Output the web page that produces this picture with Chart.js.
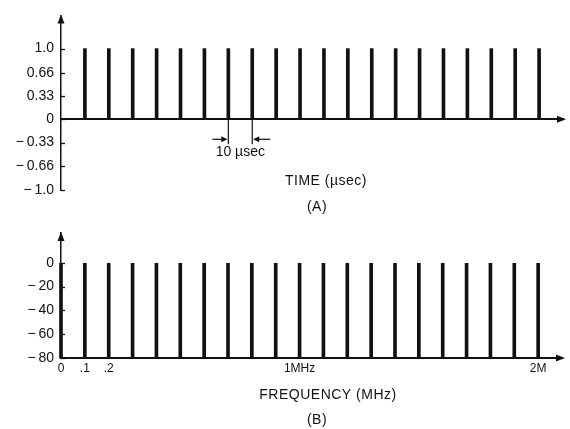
<!DOCTYPE html>
<html><head><meta charset="utf-8">
<script src="https://cdn.jsdelivr.net/npm/chart.js@4/dist/chart.umd.min.js"></script>
<style>
html,body{margin:0;padding:0;background:#fff;}
#wrap{position:relative;width:570px;height:429px;background:#fff;}
.box{position:absolute;left:0;width:570px;}
</style></head><body>
<div id="wrap">
<div class="box" style="top:0;height:215px"><canvas id="c1" width="570" height="215"></canvas></div>
<div class="box" style="top:215px;height:214px"><canvas id="c2" width="570" height="214"></canvas></div>
</div>
<script>
// ---- Panel (A): time domain ----
const pulseTimes = [10,20,30,40,50,60,70,80,90,100,110,120,130,140,150,160,170,180,190,200];
const pulseAmplitudes = [1,1,1,1,1,1,1,1,1,1,1,1,1,1,1,1,1,1,1,1];
const amplitudeTicks = [1.0,0.66,0.33,0,-0.33,-0.66,-1.0];
const amplitudeTickLabels = ["1.0","0.66","0.33","0","\u2212\u20090.33","\u2212\u20090.66","\u2212\u20091.0"];
const periodMarkerTimes = [70,80];
const periodLabel = "10 \u00B5sec";
const timeAxisTitle = "TIME (\u00B5sec)";
const panelALabel = "(A)";

// ---- Panel (B): frequency domain ----
const lineFreqs = [0,0.1,0.2,0.3,0.4,0.5,0.6,0.7,0.8,0.9,1.0,1.1,1.2,1.3,1.4,1.5,1.6,1.7,1.8,1.9,2.0];
const lineLevels = [0,0,0,0,0,0,0,0,0,0,0,0,0,0,0,0,0,0,0,0,0];
const levelFloor = -80;
const levelTicks = [0,-20,-40,-60,-80];
const levelTickLabels = ["0","\u2212\u200920","\u2212\u200940","\u2212\u200960","\u2212\u200980"];
const freqTicks = [0,0.1,0.2,1.0,2.0];
const freqTickLabels = ["0",".1",".2","1MHz","2M"];
const freqAxisTitle = "FREQUENCY (MHz)";
const panelBLabel = "(B)";

const INK = '#111';
const FONT = '"Liberation Sans", Arial, sans-serif';

function arrowUp(ctx, x, y){
  ctx.beginPath(); ctx.moveTo(x, y); ctx.lineTo(x-3.5, y+9); ctx.lineTo(x+3.5, y+9); ctx.closePath(); ctx.fill();
}
function arrowRight(ctx, x, y){
  ctx.beginPath(); ctx.moveTo(x, y); ctx.lineTo(x-9, y-3.5); ctx.lineTo(x-9, y+3.5); ctx.closePath(); ctx.fill();
}

function decor(cfg){
  return {
    id: 'decor',
    afterDraw(chart){
      const ctx = chart.ctx, xs = chart.scales.x, ys = chart.scales.y, ca = chart.chartArea;
      ctx.save();
      ctx.strokeStyle = INK; ctx.fillStyle = INK;
      ctx.lineWidth = 1.3;
      cfg.yTicks.forEach(v => {
        const py = Math.round(ys.getPixelForValue(v)) + 0.5;
        ctx.beginPath(); ctx.moveTo(ca.left, py); ctx.lineTo(ca.left + 4, py); ctx.stroke();
      });
      arrowUp(ctx, ca.left, ca.top - 1);
      const y0 = ys.getPixelForValue(cfg.xAxisAt);
      arrowRight(ctx, ca.right + 3, y0);
      ctx.textAlign = 'center'; ctx.textBaseline = 'middle';
      ctx.font = '14px ' + FONT;
      try { ctx.letterSpacing = '0.5px'; } catch (e) {}
      cfg.texts.forEach(t => ctx.fillText(t.s, t.x, t.y));
      try { ctx.letterSpacing = '0px'; } catch (e) {}
      if (cfg.extra) cfg.extra(ctx, xs, ys);
      ctx.restore();
    }
  };
}

function fixedTicks(vals){ return scale => { scale.ticks = vals.map(v => ({value: v})); }; }

// ---------- Chart A ----------
new Chart(document.getElementById('c1'), {
  type: 'bar',
  data: { datasets: [{
    data: pulseTimes.map((t, i) => ({x: t, y: pulseAmplitudes[i]})),
    backgroundColor: INK, borderWidth: 0, barThickness: 3, clip: false
  }]},
  options: {
    responsive: false, devicePixelRatio: 1, animation: false,
    layout: { padding: { top: 13, bottom: 25, left: 0, right: 7 } },
    plugins: { legend: {display: false}, tooltip: {enabled: false} },
    scales: {
      x: { type: 'linear', min: 0, max: 210, offset: false, position: {y: 0},
           grid: { display: false, offset: false }, ticks: { display: false },
           border: { display: true, color: INK, width: 2 } },
      y: { type: 'linear', min: -1.0, max: 1.47,
           afterBuildTicks: fixedTicks(amplitudeTicks),
           afterFit: s => { s.width = 61; },
           grid: { drawOnChartArea: false, drawTicks: false },
           border: { display: true, color: INK, width: 1.5 },
           ticks: { padding: 7, color: INK, font: { family: FONT, size: 14 },
                    callback: (v, i) => amplitudeTickLabels[i] } }
    }
  },
  plugins: [decor({
    yTicks: amplitudeTicks, xAxisAt: 0,
    texts: [{s: timeAxisTitle, x: 326, y: 181}, {s: panelALabel, x: 317, y: 207}],
    extra: (ctx, xs, ys) => {
      const y0 = ys.getPixelForValue(0);
      const xa = xs.getPixelForValue(periodMarkerTimes[0]);
      const xb = xs.getPixelForValue(periodMarkerTimes[1]);
      ctx.lineWidth = 1.2;
      [xa, xb].forEach(x => { ctx.beginPath(); ctx.moveTo(x, y0); ctx.lineTo(x, y0 + 25); ctx.stroke(); });
      const ay = y0 + 20;
      ctx.beginPath(); ctx.moveTo(xa - 16, ay); ctx.lineTo(xa - 2, ay); ctx.stroke();
      ctx.beginPath(); ctx.moveTo(xa - 1, ay); ctx.lineTo(xa - 7, ay - 3); ctx.lineTo(xa - 7, ay + 3); ctx.closePath(); ctx.fill();
      ctx.beginPath(); ctx.moveTo(xb + 18, ay); ctx.lineTo(xb + 2, ay); ctx.stroke();
      ctx.beginPath(); ctx.moveTo(xb + 1, ay); ctx.lineTo(xb + 7, ay - 3); ctx.lineTo(xb + 7, ay + 3); ctx.closePath(); ctx.fill();
      ctx.font = '14px ' + FONT; ctx.textAlign = 'center'; ctx.textBaseline = 'middle';
      ctx.fillText(periodLabel, (xa + xb) / 2, y0 + 33);
    }
  })]
});

// ---------- Chart B ----------
new Chart(document.getElementById('c2'), {
  type: 'bar',
  data: { datasets: [{
    data: lineFreqs.map((f, i) => ({x: f, y: [levelFloor, lineLevels[i]]})),
    backgroundColor: INK, borderWidth: 0, barThickness: 3, clip: false
  }]},
  options: {
    responsive: false, devicePixelRatio: 1, animation: false,
    layout: { padding: { top: 18, bottom: 51, left: 0, right: 8 } },
    plugins: { legend: {display: false}, tooltip: {enabled: false} },
    scales: {
      x: { type: 'linear', min: 0, max: 2.1, offset: false, position: 'bottom',
           afterBuildTicks: fixedTicks(freqTicks),
           afterFit: s => { s.height = 20; },
           grid: { drawOnChartArea: false, drawTicks: false, offset: false },
           border: { display: true, color: INK, width: 2 },
           ticks: { padding: 3, color: INK, maxRotation: 0, autoSkip: false,
                    font: { family: FONT, size: 12 },
                    callback: (v, i) => freqTickLabels[i] } },
      y: { type: 'linear', min: -80, max: 25,
           afterBuildTicks: fixedTicks(levelTicks),
           afterFit: s => { s.width = 61; },
           grid: { drawOnChartArea: false, drawTicks: false },
           border: { display: true, color: INK, width: 1.5 },
           ticks: { padding: 7, color: INK, font: { family: FONT, size: 14 },
                    callback: (v, i) => levelTickLabels[i] } }
    }
  },
  plugins: [decor({
    yTicks: levelTicks, xAxisAt: -80,
    texts: [{s: freqAxisTitle, x: 328, y: 180}, {s: panelBLabel, x: 317, y: 205}]
  })]
});
</script>
</body></html>
